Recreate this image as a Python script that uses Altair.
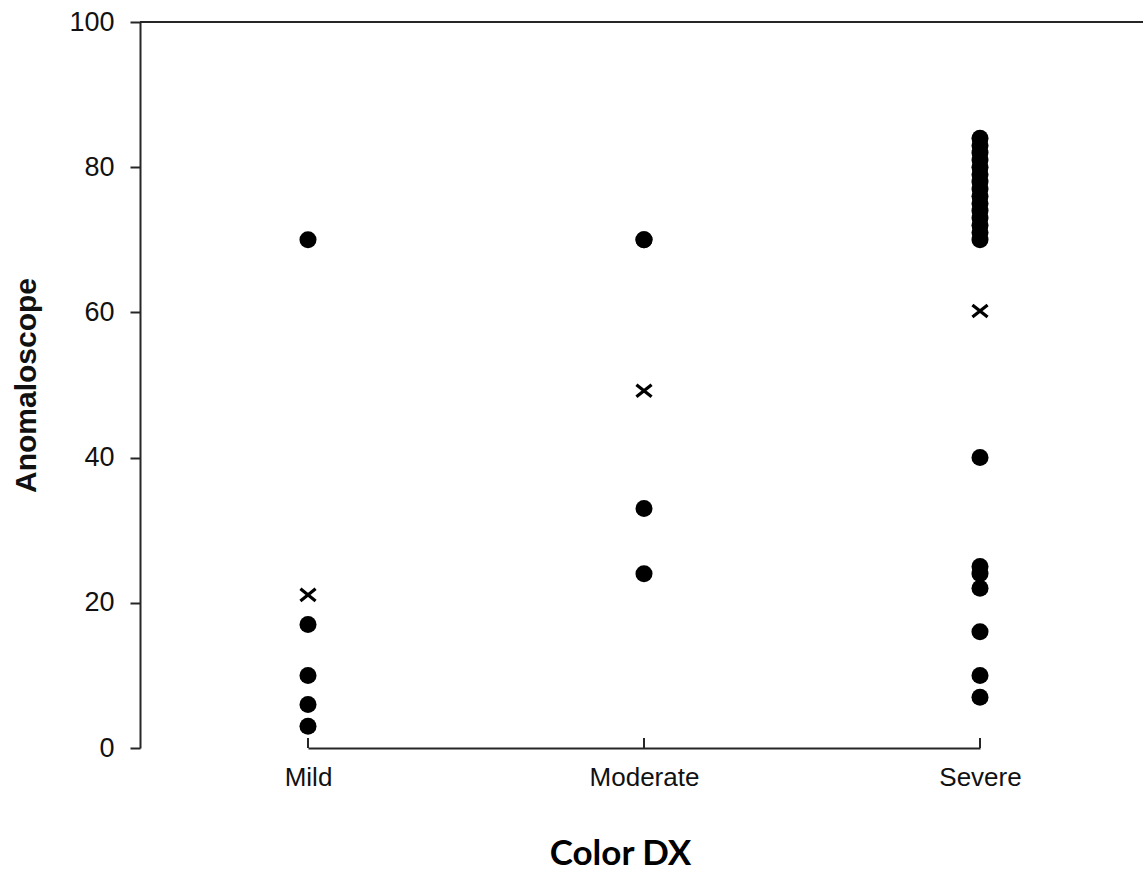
import altair as alt
import pandas as pd

# Diagnosis groups on the x axis
categories = ["Mild", "Moderate", "Severe"]

# Individual anomaloscope readings per group
mild_values = [70, 17, 10, 6, 3]
moderate_values = [70, 70, 33, 24]
severe_values = [84, 83, 82, 81, 80, 79, 78, 77, 76, 75, 74, 73, 72, 71, 70,
                 40, 25, 24, 22, 16, 10, 7]

# Group means (drawn as crosses)
mean_values = [21.1, 49.2, 60.2]

y_ticks = [0, 20, 40, 60, 80, 100]

rows = (
    [{"group": "Mild", "value": v} for v in mild_values]
    + [{"group": "Moderate", "value": v} for v in moderate_values]
    + [{"group": "Severe", "value": v} for v in severe_values]
)
points = pd.DataFrame(rows)
means = pd.DataFrame({"group": categories, "value": mean_values})
ticks = pd.DataFrame({"group": categories})

PLOT_W = 1003
PLOT_H = 726
AXIS_COLOR = "#262626"

x_scale = alt.Scale(domain=categories, type="point", range=[168, 840], padding=0)
y_scale = alt.Scale(domain=[0, 100], nice=False, zero=True)

x_axis = alt.Axis(
    title="Color DX",
    titleFont="Lato",
    titleFontSize=35,
    titleFontWeight="bold",
    titleColor="black",
    titleX=480,
    titleY=116,
    titleAlign="center",
    titleBaseline="alphabetic",
    labelFont="Liberation Sans",
    labelFontSize=26,
    labelColor="#111111",
    labelPadding=16,
    labelAngle=0,
    labelAlign="center",
    labelBaseline="top",
    labelFlush=False,
    ticks=False,
    tickSize=0,
    domainColor=AXIS_COLOR,
    domainWidth=2,
    grid=False,
)

y_axis = alt.Axis(
    values=y_ticks,
    title="Anomaloscope",
    titleFont="Liberation Sans",
    titleFontSize=30,
    titleFontWeight="bold",
    titleColor="#111111",
    titleAngle=-90,
    titleX=-114,
    titleY=363,
    titleAlign="center",
    titleBaseline="middle",
    labelFont="Liberation Sans",
    labelFontSize=27,
    labelColor="#111111",
    labelPadding=16,
    tickSize=10,
    tickWidth=2,
    tickColor=AXIS_COLOR,
    domainColor=AXIS_COLOR,
    domainWidth=2,
    grid=False,
)

dots = alt.Chart(points).mark_circle(size=290, color="black", opacity=1).encode(
    x=alt.X("group:N", scale=x_scale, axis=x_axis),
    y=alt.Y("value:Q", scale=y_scale, axis=y_axis),
)

crosses = alt.Chart(means).mark_point(
    shape="M-1,-0.8L1,0.8M-1,0.8L1,-0.8",
    filled=False,
    strokeWidth=3.2,
    size=230,
    color="black",
    opacity=1,
).encode(
    x=alt.X("group:N", scale=x_scale),
    y=alt.Y("value:Q", scale=y_scale),
)

# Short inward ticks on the category axis
inner_ticks = alt.Chart(ticks).mark_rule(color=AXIS_COLOR, strokeWidth=2).encode(
    x=alt.X("group:N", scale=x_scale),
    y=alt.value(PLOT_H),
    y2=alt.value(PLOT_H - 10),
)

# Top border line
top_line = alt.Chart(ticks).mark_rule(color=AXIS_COLOR, strokeWidth=2).encode(
    x=alt.value(0),
    x2=alt.value(PLOT_W),
    y=alt.value(0),
)

chart = (
    alt.layer(top_line, inner_ticks, dots, crosses)
    .properties(
        width=PLOT_W,
        height=PLOT_H,
        autosize=alt.AutoSizeParams(type="none"),
        padding={"left": 140, "top": 22, "right": 0, "bottom": 122},
        background="white",
    )
    .configure_view(stroke=None)
)

chart.save("out.html", embed_options={"renderer": "svg", "actions": False})
